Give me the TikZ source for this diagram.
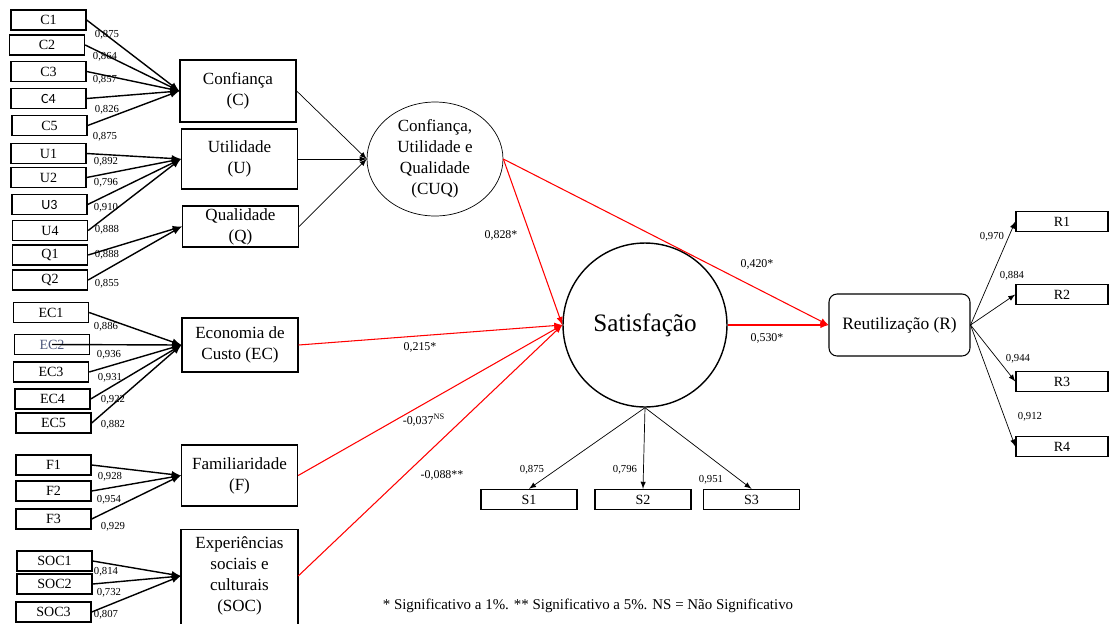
\documentclass[tikz,border=0pt]{standalone}
\usepackage{fontspec}
\setmainfont{Liberation Serif}
\newfontfamily\calfont{Carlito}
\usetikzlibrary{shapes.geometric}
\definecolor{ecblue}{RGB}{80,90,125}
\tikzset{ind/.style={rectangle,draw,thick,minimum width=1.5cm,minimum height=0.4cm,inner sep=0pt,font=\fontsize{8}{9}\selectfont}}
\tikzset{cons/.style={rectangle,draw,thick,align=center,minimum width=2.32cm,inner sep=1pt,font=\fontsize{9.7}{12}\selectfont}}
\tikzset{ld/.style={inner sep=0pt,font=\fontsize{6.1}{7}\selectfont}}
\tikzset{coef/.style={inner sep=0pt,font=\fontsize{6.8}{8}\selectfont}}
\tikzset{formarrow/.style={->,>=latex,thick}}
\tikzset{redarrow/.style={->,>=latex,red,semithick}}
\tikzset{reflarrow/.style={->,>=latex}}

\begin{document}
\begin{tikzpicture}[x=0.02cm,y=-0.02cm]
\useasboundingbox (0,0) rectangle (1110,623);
% indicators
\node[ind](c1) at (48.5,20) {C1};
\node[ind](c2) at (47,45) {C2};
\node[ind](c3) at (48.5,71.5) {C3};
\node[ind](c4) at (48.5,98.5) {\calfont C4};
\node[ind](c5) at (49.5,125.5) {C5};
\node[ind](u1) at (48.5,153.5) {U1};
\node[ind](u2) at (48.5,177.5) {U2};
\node[ind](u3) at (49.5,204.5) {\calfont U3};
\node[ind](u4) at (50,230.5) {U4};
\node[ind](q1) at (50,255) {Q1};
\node[ind](q2) at (50,280) {Q2};
\node[ind](ec1) at (51,312.5) {EC1};
\node[ind,text=ecblue](ec2) at (52,344.5) {EC2};
\node[ind](ec3) at (51,372) {EC3};
\node[ind](ec4) at (52.5,399) {EC4};
\node[ind](ec5) at (53.5,423) {EC5};
\node[ind](f1) at (53.5,465) {F1};
\node[ind](f2) at (53.5,491) {F2};
\node[ind](f3) at (53.5,519) {F3};
\node[ind](soc1) at (54.5,561) {SOC1};
\node[ind](soc2) at (54.5,584) {SOC2};
\node[ind](soc3) at (53.5,612) {SOC3};

% constructs
\node[cons,minimum height=1.24cm](conf) at (238,91) {Confiança\\(C)};
\node[cons,minimum height=1.2cm](util) at (239.5,159) {Utilidade\\(U)};
\node[cons,minimum height=0.82cm,inner sep=0pt](qual) at (240.5,226.5) {Qualidade\\(Q)};
\node[cons,minimum height=1.08cm](econ) at (240,345) {Economia de\\Custo (EC)};
\node[cons,minimum height=1.22cm](fam) at (239.5,475.5) {Familiaridade\\(F)};
\node[cons,draw=none,minimum height=1.84cm](soc) at (239.5,576) {Experiências\\sociais e\\culturais\\(SOC)};
\draw[thick] ([yshift=-12pt]soc.south west) |- (soc.north east) -- ([yshift=-12pt]soc.south east);
\node[ellipse,draw,align=center,minimum width=2.72cm,minimum height=2.28cm,inner sep=0pt,font=\fontsize{9.7}{12}\selectfont](cuq) at (435,159) {Confiança,\\Utilidade e\\Qualidade\\(CUQ)};
\node[circle,draw,thick,minimum size=3.28cm,font=\fontsize{14.3}{16}\selectfont](sat) at (645,325) {Satisfação};
\node[rectangle,draw,semithick,rounded corners=0.16cm,minimum width=2.82cm,minimum height=1.24cm,font=\fontsize{9.9}{12}\selectfont](reut) at (899.5,325) {Reutilização (R)};
\node[ind,minimum width=1.84cm](r1) at (1062,221.5) {R1};
\node[ind,minimum width=1.84cm](r2) at (1062,294.5) {R2};
\node[ind,minimum width=1.84cm](r3) at (1062,381.5) {R3};
\node[ind,minimum width=1.84cm](r4) at (1062,446.5) {R4};
\node[ind,minimum width=1.92cm](s1) at (529,499.5) {S1};
\node[ind,minimum width=1.92cm](s2) at (643,499.5) {S2};
\node[ind,minimum width=1.92cm](s3) at (751.5,499.5) {S3};

% loadings
\node[ld](lc1) at (107,35) {0,875};
\node[ld](lc2) at (105,57) {0,864};
\node[ld](lc3) at (105,80) {0,857};
\node[ld](lc4) at (107,110) {0,826};
\node[ld](lc5) at (105,137) {0,875};
\node[ld](lu1) at (106,162) {0,892};
\node[ld](lu2) at (106,183) {0,796};
\node[ld](lu3) at (106,208) {0,910};
\node[ld](lu4) at (107,230) {0,888};
\node[ld](lq1) at (107,255) {0,888};
\node[ld](lq2) at (107,284) {0,855};
\node[ld](lec1) at (106,327) {0,886};
\node[ld](lec2) at (109,355) {0,936};
\node[ld](lec3) at (110,378) {0,931};
\node[ld](lec4) at (113,400) {0,922};
\node[ld](lec5) at (113,425) {0,882};
\node[ld](lf1) at (110,477) {0,928};
\node[ld](lf2) at (109,500) {0,954};
\node[ld](lf3) at (113,527) {0,929};
\node[ld](lsoc1) at (106,572) {0,814};
\node[ld](lsoc2) at (109,593) {0,732};
\node[ld](lsoc3) at (106,615) {0,807};
\node[ld](ls1) at (532,470) {0,875};
\node[ld](ls2) at (625,470) {0,796};
\node[ld](ls3) at (711,480) {0,951};
\node[ld](lr1) at (992,237) {0,970};
\node[ld](lr2) at (1012,276) {0,884};
\node[ld](lr3) at (1018,359) {0,944};
\node[ld](lr4) at (1030,417) {0,912};

% path coefficients
\node[coef](k1) at (501,235) {0,828*};
\node[coef](k2) at (757,264) {0,420*};
\node[coef](k3) at (767,338) {0,530*};
\node[coef](k4) at (420,347) {0,215*};
\node[coef](k5) at (424,420) {-0,037\textsuperscript{NS}};
\node[coef](k6) at (442,475) {-0,088**};
\node[font=\fontsize{8.5}{10}\selectfont,inner sep=0pt](note) at (588,606) {* Significativo a 1\%. ** Significativo a 5\%. NS = Não Significativo};

\foreach \i in {c1,c2,c3,c4,c5} \draw[formarrow] (\i.east) -- (conf.west);
\foreach \i in {u1,u2,u3,u4} \draw[formarrow] (\i.east) -- (util.west);
\foreach \i in {q1,q2} \draw[formarrow] (\i.east) -- (qual.west);
\foreach \i in {ec1,ec3,ec4,ec5} \draw[formarrow] (\i.east) -- (econ.west);
\draw[formarrow] (ec2.center) -- (econ.west);
\foreach \i in {f1,f2,f3} \draw[formarrow] (\i.east) -- (fam.west);
\foreach \i in {soc1,soc2,soc3} \draw[formarrow] (\i.east) -- (soc.west);

\draw[reflarrow] (conf.east) -- (cuq.west);
\draw[reflarrow] (util.east) -- (cuq.west);
\draw[reflarrow] (qual.east) -- (cuq.west);

\draw[redarrow] (cuq.east) -- (sat.west);
\draw[redarrow] (cuq.east) -- (reut.west);
\draw[redarrow] (econ.east) -- (sat.west);
\draw[redarrow] (fam.east) -- (sat.west);
\draw[redarrow] (soc.east) -- (sat.west);
\draw[redarrow] (sat.east) -- (reut.west);

\draw[reflarrow] (sat.south) -- (s1.north);
\draw[reflarrow] (sat.south) -- (s2.north);
\draw[reflarrow] (sat.south) -- (s3.north);
\foreach \i in {r1,r2,r3,r4} \draw[reflarrow] (reut.east) -- (\i.west);
\end{tikzpicture}
\end{document}
